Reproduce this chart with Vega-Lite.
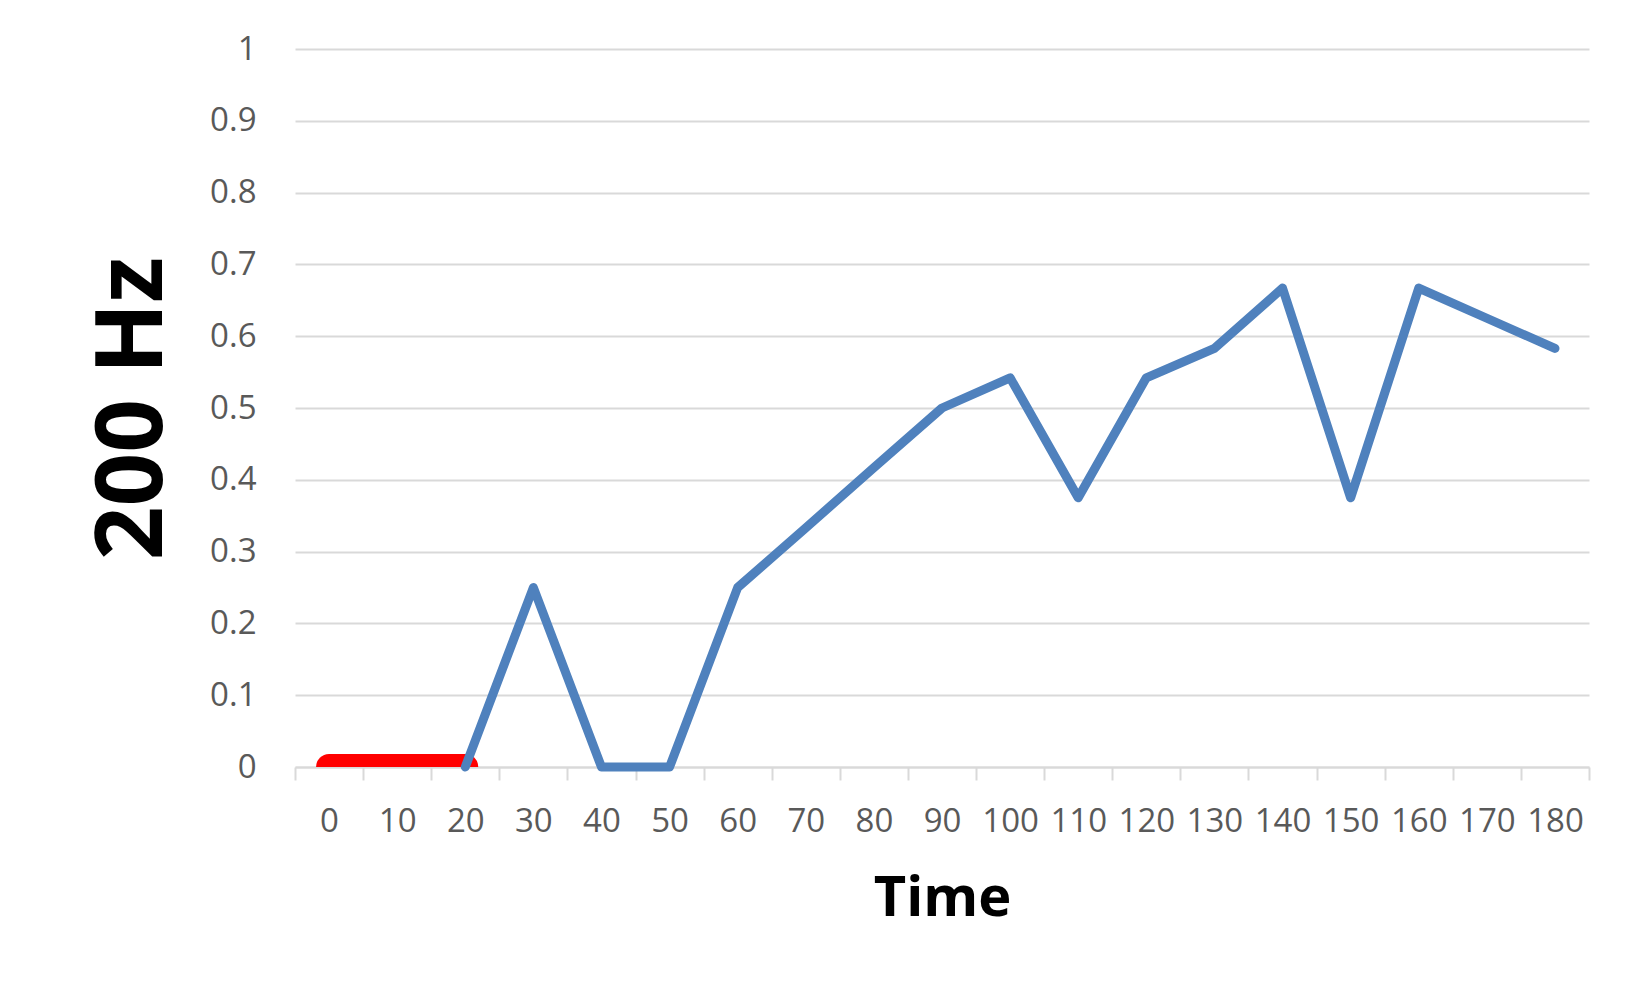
{
  "$schema": "https://vega.github.io/schema/vega-lite/v6.json",
  "width": 1294,
  "height": 718,
  "autosize": {"type": "none"},
  "padding": {"left": 295, "top": 49, "right": 51, "bottom": 227},
  "background": "white",
  "config": {"view": {"stroke": null}, "font": "Open Sans"},
  "data": {
    "values": [
      {"time": 0, "series": "red", "value": 0},
      {"time": 10, "series": "red", "value": 0},
      {"time": 20, "series": "red", "value": 0},
      {"time": 20, "series": "blue", "value": 0},
      {"time": 30, "series": "blue", "value": 0.25},
      {"time": 40, "series": "blue", "value": 0},
      {"time": 50, "series": "blue", "value": 0},
      {"time": 60, "series": "blue", "value": 0.25},
      {"time": 70, "series": "blue", "value": 0.333},
      {"time": 80, "series": "blue", "value": 0.417},
      {"time": 90, "series": "blue", "value": 0.5},
      {"time": 100, "series": "blue", "value": 0.542},
      {"time": 110, "series": "blue", "value": 0.375},
      {"time": 120, "series": "blue", "value": 0.542},
      {"time": 130, "series": "blue", "value": 0.583},
      {"time": 140, "series": "blue", "value": 0.667},
      {"time": 150, "series": "blue", "value": 0.375},
      {"time": 160, "series": "blue", "value": 0.667},
      {"time": 170, "series": "blue", "value": 0.625},
      {"time": 180, "series": "blue", "value": 0.583}
    ]
  },
  "encoding": {
    "x": {
      "field": "time",
      "type": "ordinal",
      "bandPosition": 0.5,
      "scale": {"type": "band", "paddingInner": 0, "paddingOuter": 0},
      "axis": {
        "title": "Time",
        "tickBand": "extent",
        "labelAngle": 0,
        "domainColor": "#d9d9d9",
        "domainWidth": 2,
        "tickColor": "#d9d9d9",
        "tickWidth": 2,
        "tickSize": 13,
        "labelFont": "Open Sans",
        "labelFontSize": 33,
        "labelColor": "#595959",
        "labelPadding": 25,
        "titleFont": "Open Sans",
        "titleFontSize": 56,
        "titleFontWeight": "bold",
        "titleColor": "black",
        "titlePadding": 33
      }
    },
    "y": {
      "field": "value",
      "type": "quantitative",
      "scale": {"domain": [0, 1], "nice": false, "zero": true},
      "axis": {
        "title": "200 Hz",
        "values": [0, 0.1, 0.2, 0.3, 0.4, 0.5, 0.6, 0.7, 0.8, 0.9, 1],
        "format": ".1~f",
        "grid": true,
        "gridColor": "#d9d9d9",
        "gridWidth": 2,
        "domain": false,
        "ticks": false,
        "labelFont": "Open Sans",
        "labelFontSize": 33,
        "labelColor": "#595959",
        "labelPadding": 39,
        "titleFont": "Open Sans",
        "titleFontSize": 94,
        "titleFontWeight": "bold",
        "titleColor": "black",
        "titlePadding": 28
      }
    }
  },
  "layer": [
    {
      "transform": [{"filter": "datum.series === 'red'"}],
      "mark": {"type": "line", "color": "#ff0000", "strokeWidth": 26, "strokeCap": "round", "clip": true}
    },
    {
      "transform": [{"filter": "datum.series === 'blue'"}],
      "mark": {"type": "line", "color": "#4f81bd", "strokeWidth": 9, "strokeCap": "round", "strokeJoin": "round"}
    }
  ]
}
